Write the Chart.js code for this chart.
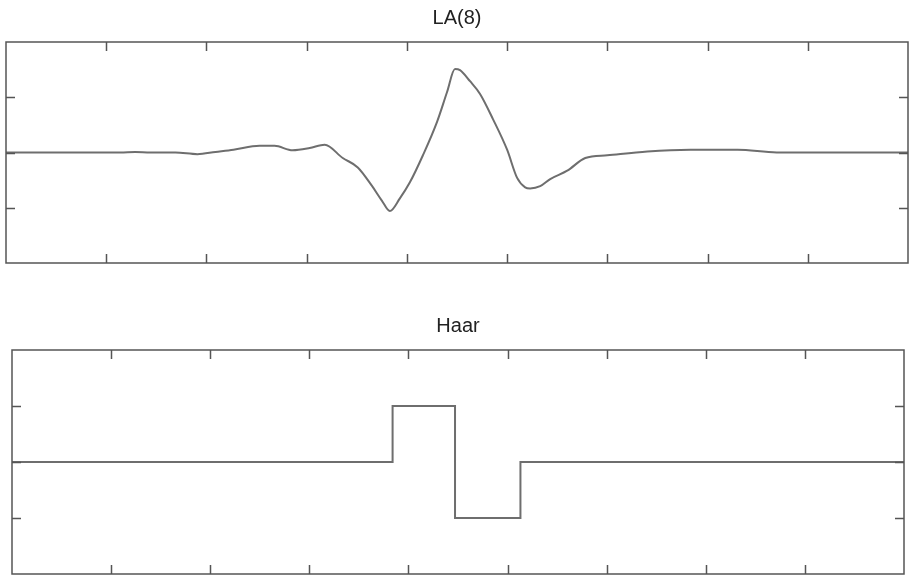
<!DOCTYPE html>
<html lang="en">
<head>
    <meta charset="UTF-8">
    <title>LA(8) and Haar wavelets</title>
    <style>
        body {
            margin: 0;
            background: #fff;
        }

        .panel {
            position: absolute;
            left: 0;
            width: 910px;
        }

        #top { top: 0; height: 270px; }
        #bottom { top: 300px; height: 277px; }
    </style>
</head>
<body>

    <div class="panel" id="top"><canvas id="laChart"></canvas></div>
    <div class="panel" id="bottom"><canvas id="haarChart"></canvas></div>

    <script src="https://cdn.jsdelivr.net/npm/chart.js"></script>
    <script>
        // LA(8) wavelet, sampled along the axis
        const laX = [0, 1.14, 1.29, 1.44, 1.69, 1.91, 2.09, 2.27, 2.53, 2.68, 2.86, 3.03, 3.18, 3.36, 3.51,
                     3.65, 3.75, 3.83, 3.93, 4.03, 4.16, 4.30, 4.40, 4.48, 4.53, 4.63, 4.73, 4.86, 5.00,
                     5.10, 5.18, 5.23, 5.33, 5.43, 5.60, 5.78, 6.00, 6.40, 6.83, 7.30, 7.69, 9.00];
        const laY = [0, 0, 0.01, 0, 0, -0.03, 0.01, 0.05, 0.12, 0.12, 0.04, 0.08, 0.14, -0.10, -0.27,
                     -0.60, -0.87, -1.06, -0.83, -0.54, -0.05, 0.55, 1.09, 1.51, 1.49, 1.29, 1.06, 0.60, 0.05,
                     -0.46, -0.63, -0.65, -0.61, -0.48, -0.33, -0.10, -0.05, 0.02, 0.05, 0.05, 0, 0];

        // Haar wavelet, step points
        const haarX = [0, 3.84, 4.47, 5.13, 9];
        const haarY = [0, 1, -1, 0, 0];

        // tick positions (no labels)
        const xTicks = [1, 2, 3, 4, 5, 6, 7, 8];
        const yTicks = [-1, 0, 1];

        const frameColor = '#555';
        const lineColor = '#6e6e6e';

        // box around the plot with short inward tick marks on all four sides
        const frameTicks = {
            id: 'frameTicks',
            afterDraw(chart) {
                const { ctx, chartArea: a, scales: { x, y } } = chart;
                const len = 9;
                ctx.save();
                ctx.strokeStyle = frameColor;
                ctx.lineWidth = 1.5;
                ctx.beginPath();
                xTicks.forEach(v => {
                    const px = Math.round(x.getPixelForValue(v)) + 0.5;
                    ctx.moveTo(px, a.top); ctx.lineTo(px, a.top + len);
                    ctx.moveTo(px, a.bottom); ctx.lineTo(px, a.bottom - len);
                });
                yTicks.forEach(v => {
                    const py = Math.round(y.getPixelForValue(v)) + 0.5;
                    ctx.moveTo(a.left, py); ctx.lineTo(a.left + len, py);
                    ctx.moveTo(a.right, py); ctx.lineTo(a.right - len, py);
                });
                ctx.stroke();
                ctx.strokeRect(a.left, a.top, a.width, a.height);
                ctx.restore();
            }
        };

        function makeConfig(title, xs, ys, padding, titlePad, extra) {
            return {
                type: 'line',
                data: {
                    datasets: [Object.assign({
                        data: xs.map((v, i) => ({ x: v, y: ys[i] })),
                        borderColor: lineColor,
                        borderWidth: 2,
                        pointRadius: 0,
                        fill: false
                    }, extra)]
                },
                options: {
                    responsive: true,
                    maintainAspectRatio: false,
                    animation: false,
                    layout: { padding: padding },
                    plugins: {
                        legend: { display: false },
                        tooltip: { enabled: false },
                        title: {
                            display: true,
                            text: title,
                            color: '#222',
                            font: { family: "'Liberation Sans', Arial, sans-serif", size: 20, weight: 'normal' },
                            padding: titlePad
                        }
                    },
                    scales: {
                        x: { type: 'linear', min: 0, max: 9, display: false },
                        y: { min: -2, max: 2, display: false }
                    }
                },
                plugins: [frameTicks]
            };
        }

        new Chart(document.getElementById('laChart'),
            makeConfig('LA(8)', laX, laY,
                { left: 6, right: 2, top: 0, bottom: 7 },
                { top: 6, bottom: 12 },
                { cubicInterpolationMode: 'monotone' }));

        new Chart(document.getElementById('haarChart'),
            makeConfig('Haar', haarX, haarY,
                { left: 12, right: 6, top: 0, bottom: 3 },
                { top: 14, bottom: 12 },
                { stepped: true }));
    </script>

</body>
</html>
